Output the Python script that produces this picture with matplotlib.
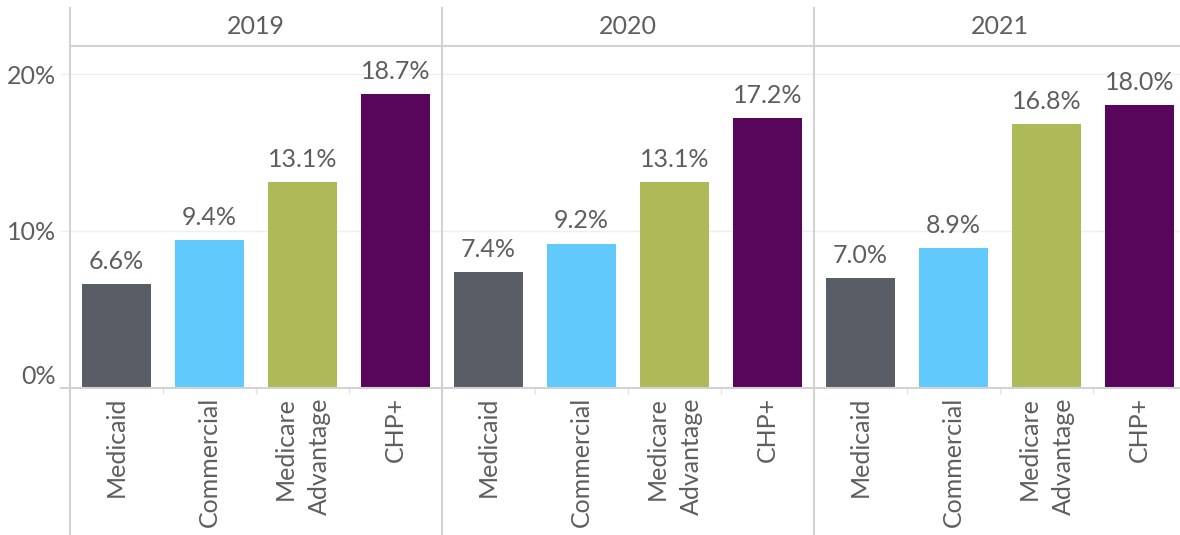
import matplotlib
matplotlib.use("Agg")
import matplotlib.pyplot as plt
from matplotlib.lines import Line2D

years = ['2019', '2020', '2021']
categories = ['Medicaid', 'Commercial', 'Medicare\nAdvantage', 'CHP+']
values_2019 = [6.6, 9.4, 13.1, 18.7]
values_2020 = [7.4, 9.2, 13.1, 17.2]
values_2021 = [7.0, 8.9, 16.8, 18.0]
bar_colors = ['#595e66', '#62c9fd', '#aeba57', '#57065b']
yticks = [0, 10, 20]
ytick_labels = ['0%', '10%', '20%']

plt.rcParams['font.family'] = ['Lato', 'DejaVu Sans']
TXT = '#5e5e5e'
LINE = '#d2d2d2'
GRID = '#efefef'
FS = 18

W, H = 1180, 535
fig = plt.figure(figsize=(W / 100, H / 100), dpi=100)

x0, pw, base, top = 70, 372, 388, 46
ymax = (base - top) / 15.7

series = [values_2019, values_2020, values_2021]
for i, (yr, vals) in enumerate(zip(years, series)):
    ax = fig.add_axes([(x0 + i * pw) / W, (H - base) / H, pw / W, (base - top) / H])
    ax.set_xlim(-0.5, 3.5)
    ax.set_ylim(0, ymax)
    for s in ax.spines.values():
        s.set_visible(False)
    ext = -9 / pw if i == 0 else 0
    for y in yticks[1:]:
        ax.axhline(y, xmin=ext, xmax=1, color=GRID, lw=1, zorder=0, clip_on=False)
    ax.axhline(0, xmin=ext, xmax=1, color=LINE, lw=1.5, zorder=3, clip_on=False)
    bars = ax.bar(range(len(categories)), vals, width=0.74, color=bar_colors, zorder=2)
    ax.bar_label(bars, labels=[f'{v:.1f}%' for v in vals], padding=8,
                 fontsize=FS, color=TXT)
    ax.set_yticks(yticks)
    if i == 0:
        ax.set_yticklabels(ytick_labels, fontsize=FS, color=TXT)
        ax.tick_params(axis='y', length=0, pad=10)
        ax.get_yticklabels()[0].set_verticalalignment('bottom')
    else:
        ax.tick_params(axis='y', length=0, labelleft=False)
    ax.set_xticks(range(len(categories)))
    ax.set_xticklabels(categories, rotation=90, fontsize=FS, color=TXT,
                       multialignment='right', linespacing=1.6)
    ax.tick_params(axis='x', length=0, pad=6.5)
    ax.set_xticks([0.5, 1.5, 2.5], minor=True)
    ax.tick_params(axis='x', which='minor', length=4, color='#e4e4e4', width=1)
    ax.text(0.5, 1 + (top - 26.5) / (base - top), yr, transform=ax.transAxes,
            ha='center', va='center', fontsize=FS, color=TXT)

for k in range(3):
    x = (x0 + k * pw) / W
    fig.add_artist(Line2D([x, x], [0, 1 - 8 / H], transform=fig.transFigure,
                          color=LINE, lw=1.5))
fig.add_artist(Line2D([x0 / W, 1], [1 - top / H, 1 - top / H],
                      transform=fig.transFigure, color=LINE, lw=1.5))

fig.savefig('out.png', dpi=100)
